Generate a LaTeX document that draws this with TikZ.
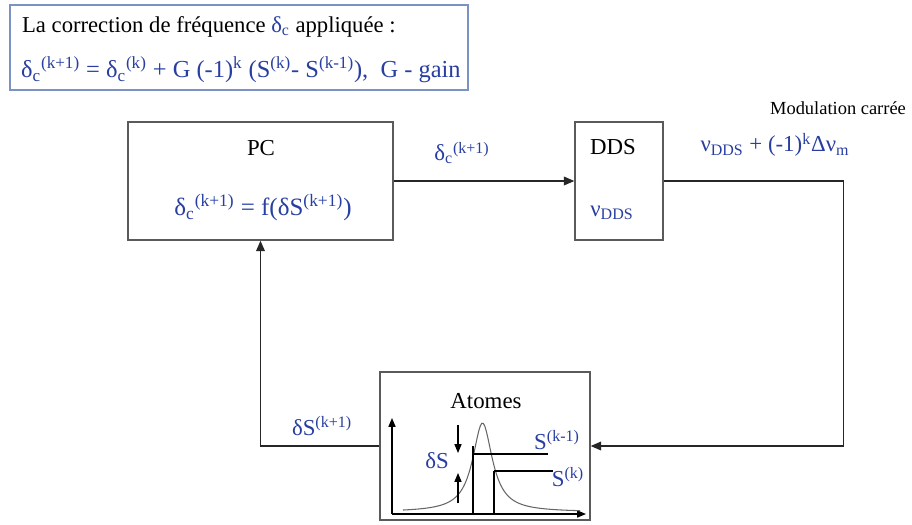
\documentclass[tikz,border=0pt]{standalone}
\usepackage{fontspec}
\setmainfont{Liberation Serif}
\usetikzlibrary{arrows.meta,positioning}
\definecolor{txtblue}{RGB}{40,62,160}
\definecolor{framegray}{RGB}{90,90,90}
\definecolor{noteline}{RGB}{125,145,195}

\begin{document}
\begin{tikzpicture}[x=0.02cm,y=-0.02cm,every node/.style={font=\fontsize{13}{15}\selectfont,inner sep=1pt},
  blk/.style={draw=framegray,line width=.8pt,inner sep=0pt},
  flow/.style={draw=black!85,line width=.8pt,-{Triangle[length=6pt,width=5pt]}},
  bl/.style={text=txtblue}]
\useasboundingbox (0,0) rectangle (912,524);
% note on top
\node[draw=noteline,line width=.8pt,minimum width=9.16cm,minimum height=1.7cm,inner sep=0pt] (note) at (239,47.5) {};
\node[anchor=west,font=\fontsize{12.9}{14}\selectfont] (l1) at (20,27) {La correction de fréquence \textcolor{txtblue}{δ\textsubscript{c}} appliquée :};
\node[anchor=west,bl,font=\fontsize{13.9}{16}\selectfont] (l2) at (19,70) {δ\textsubscript{c}\textsuperscript{(k+1)} = δ\textsubscript{c}\textsuperscript{(k)} + G (-1)\textsuperscript{k} (S\textsuperscript{(k)}- S\textsuperscript{(k-1)}),\ \ G - gain};
% blocks
\node[blk,minimum width=5.3cm,minimum height=2.36cm] (pc) at (260.5,181) {};
\node (pct) at (261,148) {PC};
\node[bl,font=\fontsize{14.2}{16}\selectfont] (pcf) at (263,208) {δ\textsubscript{c}\textsuperscript{(k+1)} = f(δS\textsuperscript{(k+1)})};
\node[blk,minimum width=1.76cm,minimum height=2.36cm] (dds) at (619,181) {};
\node (ddst) at (613,147) {DDS};
\node[bl] (ddsf) at (612,213) {ν\textsubscript{DDS}};
\node[blk,minimum width=4.2cm,minimum height=2.96cm] (atomes) at (485,446) {};
\node (att) at (486,401) {Atomes};
% connectors
\draw[flow] (pc.east) -- (dds.west);
\node[bl] (dcl) at (462,153) {δ\textsubscript{c}\textsuperscript{(k+1)}};
\draw[flow] (dds.east) -- ++(180,0) |- (atomes.east);
\draw[flow] (atomes.west) -| (pc.south);
\node[bl] (dsl) at (322,426) {δS\textsuperscript{(k+1)}};
\node[font=\fontsize{10.5}{12}\selectfont] (modt) at (838,108) {Modulation carrée};
\node[bl] (modf) at (775,145) {ν\textsubscript{DDS} + (-1)\textsuperscript{k}Δν\textsubscript{m}};
% resonance inside Atomes
\coordinate (org) at (392,514);
\draw[line width=.7pt,-{Triangle[length=5pt,width=4pt]}] (org) -- (392,418);
\draw[line width=.7pt,-{Triangle[length=5pt,width=4pt]}] (org) -- (586,514);
\draw[black!60,line width=.6pt] plot[domain=403:580,samples=120] (\x,{512-89/(1+((\x-482.5)/12)^2)});
\draw[line width=.6pt] (473,446) -- (473,514) (494,471) -- (494,514);
\draw[line width=.6pt] (473,454) -- (548,454) (494,471) -- (553,471);
\draw[line width=.6pt,-{Triangle[length=5pt,width=4pt]}] (458,425) -- (458,453);
\draw[line width=.6pt,-{Triangle[length=5pt,width=4pt]}] (458,503) -- (458,473);
\node[bl] (dsa) at (437,461) {δS};
\node[bl] (skm) at (557,440) {S\textsuperscript{(k-1)}};
\node[bl] (sk) at (568,477) {S\textsuperscript{(k)}};
\end{tikzpicture}
\end{document}
